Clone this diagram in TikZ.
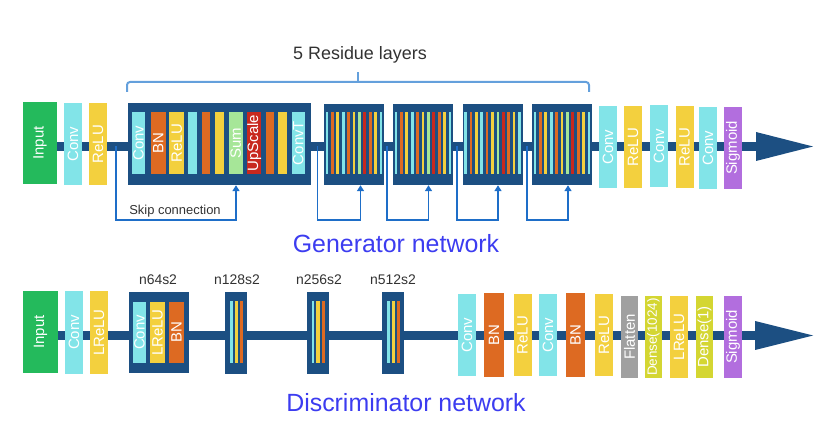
\documentclass[tikz,border=0pt]{standalone}
\usepackage{graphicx}
\usepackage{fontspec}
\setmainfont{Liberation Sans}
\usetikzlibrary{arrows.meta}
\definecolor{dkblue}{RGB}{28,79,130}
\definecolor{cinput}{RGB}{36,186,92}
\definecolor{ccyan}{RGB}{130,228,232}
\definecolor{cyellow}{RGB}{243,208,62}
\definecolor{corange}{RGB}{221,106,34}
\definecolor{cgreen}{RGB}{166,230,152}
\definecolor{cred}{RGB}{200,40,30}
\definecolor{cpurple}{RGB}{178,110,222}
\definecolor{cgray}{RGB}{160,160,160}
\definecolor{cdense}{RGB}{212,214,50}
\definecolor{skipblue}{RGB}{30,110,200}
\definecolor{titleblue}{RGB}{60,60,240}
\definecolor{bracec}{RGB}{100,160,220}
\definecolor{txtc}{RGB}{50,50,50}
\newcommand\lbl{\fontsize{15}{18}\selectfont}
\tikzset{
  lay/.style={inner sep=0pt, minimum height=82bp, minimum width=18bp, text=white, font=\lbl},
  inl/.style={inner sep=0pt, minimum height=62bp, text=white, font=\lbl},
  blk/.style={fill=dkblue, inner sep=0pt},
  spine/.style={draw=dkblue, line width=9bp},
  skipline/.style={draw=skipblue, line width=1.5bp, -{Triangle[width=7bp,length=6bp]}},
  captxt/.style={text=txtc, inner sep=0pt},
  ttlstyle/.style={text=titleblue, inner sep=0pt, font=\fontsize{25}{30}\selectfont},
}
\begin{document}
\begin{tikzpicture}[x=1bp,y=-1bp]
\useasboundingbox (0,0) rectangle (828,437);

% ---------------- Generator ----------------
\coordinate (gs) at (50,146.5);
\coordinate (ge) at (758,146.5);
\draw[spine] (gs) -- (ge);
\fill[dkblue] (756,132) -- (813,146.5) -- (756,161) -- cycle;

\node[lay, fill=cinput, minimum width=34bp] (gin) at (40,143) {\rotatebox{90}{Input}};
\node[lay, fill=ccyan] (gc1) at (73,144) {\rotatebox{90}{Conv}};
\node[lay, fill=cyellow] (gr1) at (98,144) {\rotatebox{90}{ReLU}};

\node[blk, minimum width=183bp, minimum height=82bp] (gb1) at (219.5,144) {};
\node[inl, fill=ccyan,   minimum width=13bp]   (b1a) at (138.6,143) {\rotatebox{90}{Conv}};
\node[inl, fill=corange, minimum width=14.7bp] (b1b) at (158.3,143) {\rotatebox{90}{BN}};
\node[inl, fill=cyellow, minimum width=15bp]   (b1c) at (176.8,143) {\rotatebox{90}{ReLU}};
\node[inl, fill=ccyan,   minimum width=8.4bp]  (b1d) at (192.5,143) {};
\node[inl, fill=corange, minimum width=8.3bp]  (b1e) at (205.8,143) {};
\node[inl, fill=cyellow, minimum width=9bp]    (b1f) at (219.5,143) {};
\node[inl, fill=cgreen,  minimum width=13.7bp] (b1g) at (235.8,143) {\rotatebox{90}{Sum}};
\node[inl, fill=cred,    minimum width=13.7bp] (b1h) at (254.2,143) {\rotatebox{90}{UpScale}};
\node[inl, fill=corange, minimum width=8.3bp]  (b1i) at (269.8,143) {};
\node[inl, fill=cyellow, minimum width=8.4bp]  (b1j) at (282.5,143) {};
\node[inl, fill=ccyan,   minimum width=13bp]   (b1k) at (298.2,143) {\rotatebox{90}{ConvT}};

\foreach \bx [count=\k] in {354,423,492.5,562} {
  \node[blk, minimum width=60bp, minimum height=81bp] (res\k) at (\bx,144.5) {};
  \foreach \c [count=\i from 0] in {ccyan,corange,cyellow,ccyan,corange,cyellow,cgreen,cred,corange,cyellow,ccyan}
    \fill[\c] (\bx-28.35+\i*5.4,112) rectangle ++(2.7,62);
}

\node[lay, fill=ccyan]   (gc2) at (608,147) {\rotatebox{90}{Conv}};
\node[lay, fill=cyellow] (gr2) at (633,147) {\rotatebox{90}{ReLU}};
\node[lay, fill=ccyan]   (gc3) at (659,146) {\rotatebox{90}{Conv}};
\node[lay, fill=cyellow] (gr3) at (684.5,147) {\rotatebox{90}{ReLU}};
\node[lay, fill=ccyan]   (gc4) at (708,148) {\rotatebox{90}{Conv}};
\node[lay, fill=cpurple] (gsg) at (733,148) {\rotatebox{90}{Sigmoid}};

% skip connections
\coordinate (s1a) at (116,146.5); \coordinate (s1b) at (236,220);
\coordinate (s2a) at (317.5,146.5); \coordinate (s2b) at (360.5,220);
\coordinate (s3a) at (387,146.5); \coordinate (s3b) at (428.5,220);
\coordinate (s4a) at (457,146.5); \coordinate (s4b) at (498,220);
\coordinate (s5a) at (527,146.5); \coordinate (s5b) at (568,220);
\draw[skipline] (s1a) |- (s1b) -- (s1b |- gb1.south);
\draw[skipline] (s2a) |- (s2b) -- (s2b |- res1.south);
\draw[skipline] (s3a) |- (s3b) -- (s3b |- res2.south);
\draw[skipline] (s4a) |- (s4b) -- (s4b |- res3.south);
\draw[skipline] (s5a) |- (s5b) -- (s5b |- res4.south);
\node[captxt, font=\fontsize{13}{15}\selectfont] (skiplbl) at (175,211.5) {Skip connection};

% brace
\draw[bracec, line width=2bp, rounded corners=3bp] (127,92) -- (127,82) -- (589,82) -- (589,92);
\draw[bracec, line width=2bp] (358,83) -- (358,72);
\node[captxt, font=\fontsize{18}{21}\selectfont] (reslbl) at (360,55) {5 Residue layers};

\node[ttlstyle] (gtitle) at (396,244) {Generator network};

% ---------------- Discriminator ----------------
\coordinate (dsp) at (50,335.5);
\coordinate (dep) at (757,335.5);
\draw[spine] (dsp) -- (dep);
\fill[dkblue] (755,321) -- (813,335.5) -- (755,350) -- cycle;

\node[lay, fill=cinput, minimum width=35bp] (din) at (40.5,332) {\rotatebox{90}{Input}};
\node[lay, fill=ccyan] (dc1) at (74,332.5) {\rotatebox{90}{Conv}};
\node[lay, fill=cyellow] (dl1) at (99,332.5) {\rotatebox{90}{LReLU}};

\node[blk, minimum width=60bp, minimum height=81bp] (db1) at (159,332.5) {};
\node[inl, fill=ccyan,   minimum width=13bp, minimum height=61bp] (d1a) at (139.5,332.5) {\rotatebox{90}{Conv}};
\node[inl, fill=cyellow, minimum width=15bp, minimum height=61bp] (d1b) at (157.5,332.5) {\rotatebox{90}{LReLU}};
\node[inl, fill=corange, minimum width=15bp, minimum height=61bp] (d1c) at (176.5,332.5) {\rotatebox{90}{BN}};

\foreach \bx [count=\k] in {236,317.5,393} {
  \node[blk, minimum width=22bp, minimum height=82bp] (db\k x) at (\bx,333) {};
  \fill[ccyan]   (\bx-6,301) rectangle ++(2.5,62);
  \fill[cyellow] (\bx-1.5,301) rectangle ++(3.5,62);
  \fill[corange] (\bx+4,301) rectangle ++(3,62);
}

\node[captxt, font=\fontsize{14}{16}\selectfont] (n64)  at (158,280) {n64s2};
\node[captxt, font=\fontsize{14}{16}\selectfont] (n128) at (237,280) {n128s2};
\node[captxt, font=\fontsize{14}{16}\selectfont] (n256) at (319,280) {n256s2};
\node[captxt, font=\fontsize{14}{16}\selectfont] (n512) at (393,280) {n512s2};

\node[lay, fill=ccyan]   (dc2) at (467,335) {\rotatebox{90}{Conv}};
\node[lay, fill=corange, minimum width=20bp, minimum height=84bp] (dbn2) at (494,335) {\rotatebox{90}{BN}};
\node[lay, fill=cyellow] (dr2) at (522.5,335) {\rotatebox{90}{ReLU}};
\node[lay, fill=ccyan]   (dc3) at (548,335) {\rotatebox{90}{Conv}};
\node[lay, fill=corange, minimum width=19bp, minimum height=84bp] (dbn3) at (575.5,335) {\rotatebox{90}{BN}};
\node[lay, fill=cyellow] (dr3) at (604,335) {\rotatebox{90}{ReLU}};
\node[lay, fill=cgray, minimum width=17bp] (dfl) at (629.5,337) {\rotatebox{90}{Flatten}};
\node[lay, fill=cdense, minimum width=17bp, font=\fontsize{13.5}{16}\selectfont] (dd1) at (653.5,337) {\rotatebox{90}{Dense(1024)}};
\node[lay, fill=cyellow] (dl2) at (679,337) {\rotatebox{90}{LReLU}};
\node[lay, fill=cdense, minimum width=17bp] (dd2) at (704.5,337) {\rotatebox{90}{Dense(1)}};
\node[lay, fill=cpurple] (dsg) at (733,337) {\rotatebox{90}{Sigmoid}};

\node[ttlstyle] (dtitle) at (406,403) {Discriminator network};
\end{tikzpicture}
\end{document}
